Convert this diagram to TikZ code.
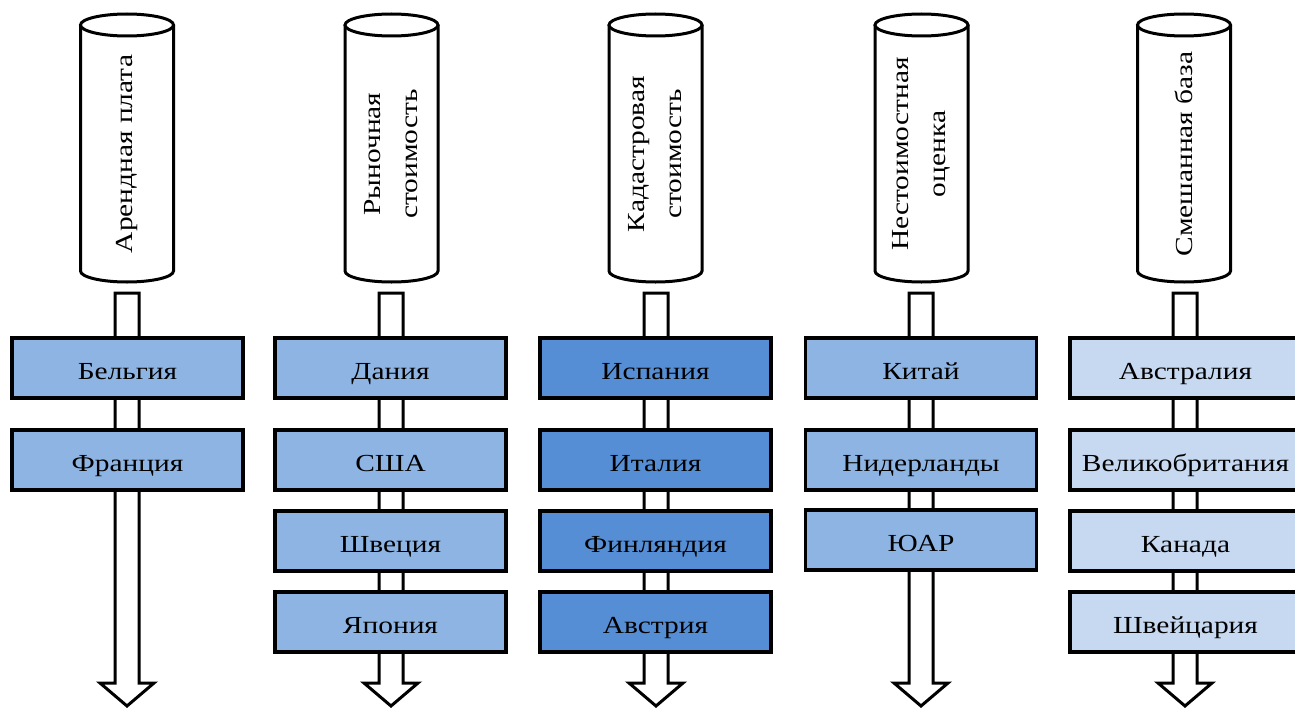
\documentclass[tikz,border=0pt]{standalone}
\usepackage{fontspec}
\setmainfont{Liberation Serif}[FakeStretch=1.2]
\definecolor{boxmid}{RGB}{142,180,227}
\definecolor{boxdark}{RGB}{85,142,213}
\definecolor{boxlight}{RGB}{198,217,241}

% upright cylinder with a vertical caption, centred on x = #1
\newcommand\basecyl[3]{%
  \draw[cyl] (#1-46.5,25) -- (#1-46.5,271)
    arc[start angle=180,end angle=360,x radius=46.5pt,y radius=11pt]
    -- (#1+46.5,25);
  \draw[cyl] (#1,25) ellipse[x radius=46.5pt,y radius=11pt];
  \node[cyltext] (#2) at (#1,154) {#3};
}
% hollow downward arrow, centred on x = #1
\newcommand\flowarrow[1]{%
  \draw[flow] (#1-12,293) -- (#1+12,293) -- (#1+12,683) -- (#1+27,683)
    -- (#1,706) -- (#1-27,683) -- (#1-12,683) -- cycle;
}

\begin{document}
\begin{tikzpicture}[x=1pt,y=-1pt,
  cyl/.style={draw=black,line width=3pt,fill=white},
  cyltext/.style={rotate=90,align=center,inner sep=0pt,
    font=\fontsize{24.5}{37}\selectfont},
  flow/.style={draw=black,line width=3pt,fill=white,line join=miter},
  country/.style={draw=black,line width=3.5pt,minimum width=231pt,
    minimum height=60pt,inner sep=0pt,text height=24pt,text depth=1pt,
    font=\fontsize{24.5}{28}\selectfont}]
\useasboundingbox (0,0) rectangle (1295,709);

% column 1
\basecyl{127}{c1}{Арендная плата}
\flowarrow{127}
\node[country,fill=boxmid] (b11) at (127.5,368) {Бельгия};
\node[country,fill=boxmid] (b12) at (127.5,460) {Франция};

% column 2
\basecyl{391.5}{c2}{Рыночная\\стоимость}
\flowarrow{391}
\node[country,fill=boxmid] (b21) at (390.5,368) {Дания};
\node[country,fill=boxmid] (b22) at (390.5,460) {США};
\node[country,fill=boxmid] (b23) at (390.5,541) {Швеция};
\node[country,fill=boxmid] (b24) at (390.5,622) {Япония};

% column 3
\basecyl{655.5}{c3}{Кадастровая\\стоимость}
\flowarrow{656}
\node[country,fill=boxdark] (b31) at (655.5,368) {Испания};
\node[country,fill=boxdark] (b32) at (655.5,460) {Италия};
\node[country,fill=boxdark] (b33) at (655.5,541) {Финляндия};
\node[country,fill=boxdark] (b34) at (655.5,622) {Австрия};

% column 4
\basecyl{921.5}{c4}{Нестоимостная\\оценка}
\flowarrow{921}
\node[country,fill=boxmid] (b41) at (921,368) {Китай};
\node[country,fill=boxmid] (b42) at (921,460) {Нидерланды};
\node[country,fill=boxmid] (b43) at (921,540) {ЮАР};

% column 5
\basecyl{1184}{c5}{Смешанная база}
\flowarrow{1185}
\node[country,fill=boxlight] (b51) at (1185.5,368) {Австралия};
\node[country,fill=boxlight] (b52) at (1185.5,460) {Великобритания};
\node[country,fill=boxlight] (b53) at (1185.5,541) {Канада};
\node[country,fill=boxlight] (b54) at (1185.5,622) {Швейцария};
\end{tikzpicture}
\end{document}
